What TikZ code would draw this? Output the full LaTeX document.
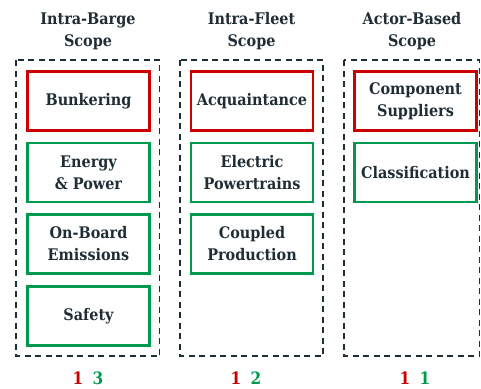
\documentclass[tikz,border=0pt]{standalone}
\usepackage{fontspec}
\setmainfont{DejaVu Serif Condensed}[BoldFont={DejaVu Serif Condensed Bold}]
\definecolor{ink}{HTML}{1F2D35}
\definecolor{hot}{HTML}{CC0000}
\definecolor{ok}{HTML}{009A4E}
\begin{document}
\begin{tikzpicture}[x=1pt,y=-1pt,
  font=\bfseries\fontsize{16}{22}\selectfont,
  scopebox/.style={draw=ink, line width=1.8pt, dash pattern=on 6pt off 4.5pt},
  item/.style={draw, line width=2.8pt, minimum width=122pt, minimum height=59pt,
    align=center, text=ink, inner sep=0pt},
  red item/.style={item, draw=hot},
  green item/.style={item, draw=ok},
  heading/.style={align=center, text=ink},
  tally/.style={font=\bfseries\fontsize{17}{18}\selectfont}]
\useasboundingbox (0,0) rectangle (481,388);

% scope frames
\draw[scopebox] (16,60) rectangle (159.5,356);
\draw[scopebox] (180,60) rectangle (323,356);
\draw[scopebox] (344,60) rectangle (479.5,356);

% headings
\node[heading] (h1) at (88,31.5) {Intra-Barge\\Scope};
\node[heading] (h2) at (251.5,31.5) {Intra-Fleet\\Scope};
\node[heading] (h3) at (412,31.5) {Actor-Based\\Scope};

% intra-barge column
\node[red item]   (bunk) at (88.5,101)  {Bunkering};
\node[green item] (enrg) at (88.5,172.5) {Energy\\\& Power};
\node[green item] (emis) at (88.5,244)  {On-Board\\Emissions};
\node[green item] (safe) at (88.5,316)  {Safety};

% intra-fleet column
\node[red item]   (acq)  at (252,101)  {Acquaintance};
\node[green item] (elec) at (252,172.5) {Electric\\Powertrains};
\node[green item] (coup) at (252,244)  {Coupled\\Production};

% actor-based column
\node[red item]   (comp) at (415.5,101)  {Component\\Suppliers};
\node[green item] (cls)  at (415.5,172.5) {Classification};

% tallies
\node[tally, text=hot] (r1) at (78,378) {1};
\node[tally, text=ok]  (g1) at (98,378) {3};
\node[tally, text=hot] (r2) at (236,378) {1};
\node[tally, text=ok]  (g2) at (256,378) {2};
\node[tally, text=hot] (r3) at (405,378) {1};
\node[tally, text=ok]  (g3) at (425,378) {1};
\end{tikzpicture}
\end{document}
